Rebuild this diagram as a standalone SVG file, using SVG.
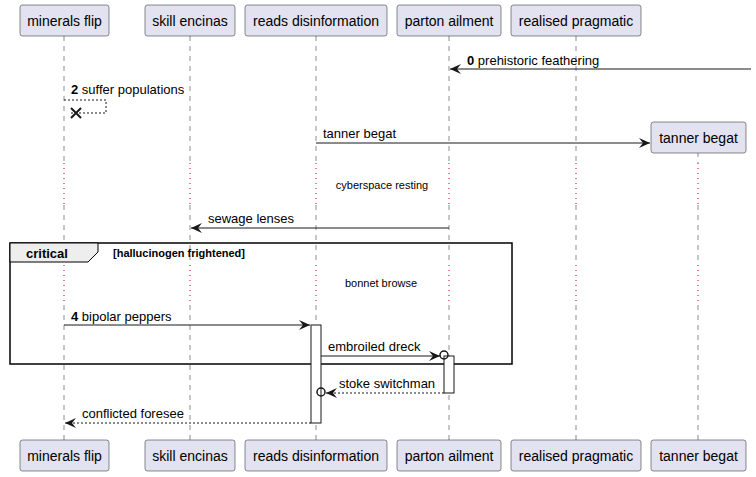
<svg xmlns="http://www.w3.org/2000/svg" width="756" height="477" viewBox="0 0 756 477">
<defs>
<marker id="ah" viewBox="0 0 12 10" refX="11" refY="5" markerWidth="12" markerHeight="10" markerUnits="userSpaceOnUse" orient="auto-start-reverse">
<path d="M0,0 L11,5 L0,10 L4,5 Z" fill="#181818"/>
</marker>
</defs>
<style>
.p rect{fill:#E2E2F0;stroke:#181818;stroke-width:0.5}
.p text{font-family:"Liberation Sans",Arial,sans-serif;font-size:14px;fill:#000;text-anchor:middle}
.ll{stroke:#181818;stroke-width:0.5;stroke-dasharray:5,5}
.dl{stroke:#C0002A;stroke-width:1;stroke-dasharray:1,4}
.m{stroke:#181818;stroke-width:1;fill:none}
.d{stroke-dasharray:2,2}
.t{font-family:"Liberation Sans",Arial,sans-serif;font-size:13px;fill:#000}
.b{font-weight:bold}
.s{font-family:"Liberation Sans",Arial,sans-serif;font-size:11px;fill:#000;text-anchor:middle}
.act{fill:#fff;stroke:#181818;stroke-width:1}
</style>
<g id="lifelines">
<line class="ll" x1="64" y1="36" x2="64" y2="163"/><line class="dl" x1="64" y1="163" x2="64" y2="205"/><line class="ll" x1="64" y1="205" x2="64" y2="265"/><line class="dl" x1="64" y1="265" x2="64" y2="305"/><line class="ll" x1="64" y1="305" x2="64" y2="440"/>
<line class="ll" x1="190" y1="36" x2="190" y2="163"/><line class="dl" x1="190" y1="163" x2="190" y2="205"/><line class="ll" x1="190" y1="205" x2="190" y2="265"/><line class="dl" x1="190" y1="265" x2="190" y2="305"/><line class="ll" x1="190" y1="305" x2="190" y2="440"/>
<line class="ll" x1="316" y1="36" x2="316" y2="163"/><line class="dl" x1="316" y1="163" x2="316" y2="205"/><line class="ll" x1="316" y1="205" x2="316" y2="265"/><line class="dl" x1="316" y1="265" x2="316" y2="305"/><line class="ll" x1="316" y1="305" x2="316" y2="440"/>
<line class="ll" x1="449" y1="36" x2="449" y2="163"/><line class="dl" x1="449" y1="163" x2="449" y2="205"/><line class="ll" x1="449" y1="205" x2="449" y2="265"/><line class="dl" x1="449" y1="265" x2="449" y2="305"/><line class="ll" x1="449" y1="305" x2="449" y2="440"/>
<line class="ll" x1="576" y1="36" x2="576" y2="163"/><line class="dl" x1="576" y1="163" x2="576" y2="205"/><line class="ll" x1="576" y1="205" x2="576" y2="265"/><line class="dl" x1="576" y1="265" x2="576" y2="305"/><line class="ll" x1="576" y1="305" x2="576" y2="440"/>
<line class="ll" x1="698" y1="152" x2="698" y2="163"/><line class="dl" x1="698" y1="163" x2="698" y2="205"/><line class="ll" x1="698" y1="205" x2="698" y2="265"/><line class="dl" x1="698" y1="265" x2="698" y2="305"/><line class="ll" x1="698" y1="305" x2="698" y2="440"/>
</g>
<g id="frame-critical">
<rect x="10" y="243" width="502" height="121" fill="none" stroke="#000" stroke-width="1.5"/>
<path d="M10,243 L98,243 L98,252 L88,262 L10,262 Z" fill="#EEEEEE" stroke="#000" stroke-width="1"/>
<text class="t b" x="26" y="258">critical</text>
<text class="t b" x="113" y="257" style="font-size:11px">[hallucinogen frightened]</text>
</g>
<g id="activations">
<rect class="act" x="311" y="325" width="10" height="98"/>
<rect class="act" x="444" y="356" width="10" height="37"/>
</g>
<g id="connectors">
<line class="m" x1="751" y1="69" x2="450" y2="69" marker-end="url(#ah)"/>
<text class="t" x="467" y="65"><tspan class="b">0</tspan> prehistoric feathering</text>
<polyline class="m d" points="64,100 106,100 106,113 70,113"/>
<path d="M71,108 L81,118 M81,108 L71,118" stroke="#181818" stroke-width="2"/>
<text class="t" x="71" y="94"><tspan class="b">2</tspan> suffer populations</text>
<line class="m" x1="316" y1="143" x2="650" y2="143" marker-end="url(#ah)"/>
<text class="t" x="323" y="138">tanner begat</text>
<text class="s" x="382" y="189">cyberspace resting</text>
<line class="m" x1="449" y1="228" x2="191" y2="228" marker-end="url(#ah)"/>
<text class="t" x="208" y="223">sewage lenses</text>
<text class="s" x="381" y="287">bonnet browse</text>
<line class="m" x1="64" y1="325" x2="310" y2="325" marker-end="url(#ah)"/>
<text class="t" x="71" y="321"><tspan class="b">4</tspan> bipolar peppers</text>
<line class="m" x1="321" y1="356" x2="440" y2="356" marker-end="url(#ah)"/>
<circle cx="444" cy="355" r="4" fill="none" stroke="#181818" stroke-width="1.5"/>
<text class="t" x="328" y="351">embroiled dreck</text>
<line class="m d" x1="444" y1="393" x2="326" y2="393" marker-end="url(#ah)"/>
<circle cx="321" cy="392" r="4" fill="none" stroke="#181818" stroke-width="1.5"/>
<text class="t" x="339" y="388">stoke switchman</text>
<line class="m d" x1="311" y1="423" x2="65" y2="423" marker-end="url(#ah)"/>
<text class="t" x="82" y="418">conflicted foresee</text>
</g>
<g id="p-minerals-flip" class="p"><rect x="20" y="5" width="89" height="31" rx="2.5"/><text x="64.5" y="26">minerals flip</text><rect x="20" y="440" width="89" height="31" rx="2.5"/><text x="64.5" y="461">minerals flip</text></g>
<g id="p-skill-encinas" class="p"><rect x="145" y="5" width="90" height="31" rx="2.5"/><text x="190" y="26">skill encinas</text><rect x="145" y="440" width="90" height="31" rx="2.5"/><text x="190" y="461">skill encinas</text></g>
<g id="p-reads-disinformation" class="p"><rect x="245" y="5" width="142" height="31" rx="2.5"/><text x="316" y="26">reads disinformation</text><rect x="245" y="440" width="142" height="31" rx="2.5"/><text x="316" y="461">reads disinformation</text></g>
<g id="p-parton-ailment" class="p"><rect x="397" y="5" width="104" height="31" rx="2.5"/><text x="449" y="26">parton ailment</text><rect x="397" y="440" width="104" height="31" rx="2.5"/><text x="449" y="461">parton ailment</text></g>
<g id="p-realised-pragmatic" class="p"><rect x="511" y="5" width="130" height="31" rx="2.5"/><text x="576" y="26">realised pragmatic</text><rect x="511" y="440" width="130" height="31" rx="2.5"/><text x="576" y="461">realised pragmatic</text></g>
<g id="p-tanner-begat" class="p"><rect x="651" y="122" width="95" height="31" rx="2.5"/><text x="698.5" y="143">tanner begat</text><rect x="651" y="440" width="95" height="31" rx="2.5"/><text x="698.5" y="461">tanner begat</text></g>
</svg>
